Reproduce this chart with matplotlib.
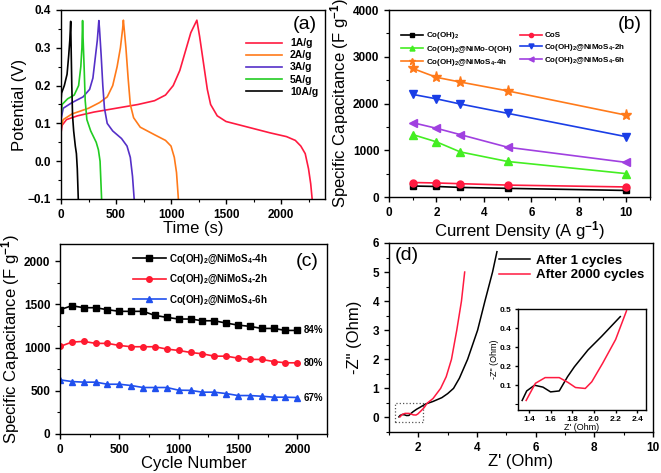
import matplotlib
matplotlib.use('Agg')
import matplotlib.pyplot as plt
from matplotlib.ticker import AutoMinorLocator
from matplotlib.patches import Rectangle
import numpy as np

plt.rcParams['font.family'] = ['Liberation Sans', 'DejaVu Sans']
plt.rcParams['mathtext.fontset'] = 'custom'
plt.rcParams['mathtext.rm'] = 'Liberation Sans:bold'
plt.rcParams['mathtext.it'] = 'Liberation Sans:bold'
plt.rcParams['mathtext.bf'] = 'Liberation Sans:bold'

# ---- (a) GCD curves ----
gcd_labels = ['1A/g', '2A/g', '3A/g', '5A/g', '10A/g']
gcd_colors = ['#ff1a40', '#ff7a1a', '#5530c8', '#22cc22', '#000000']
t_1 = [0, 10, 50, 150, 300, 500, 700, 850, 950, 1020, 1080, 1130, 1180, 1235,
       1260, 1300, 1330, 1360, 1420, 1500, 1700, 1900, 2050, 2130, 2180, 2220, 2250, 2270, 2283]
v_1 = [0.075, 0.095, 0.11, 0.12, 0.13, 0.14, 0.15, 0.16, 0.175, 0.2, 0.24, 0.29, 0.34, 0.373,
       0.33, 0.25, 0.19, 0.15, 0.12, 0.105, 0.09, 0.075, 0.065, 0.055, 0.04, 0.02, -0.02, -0.06, -0.1]
t_2 = [0, 20, 100, 250, 350, 420, 470, 510, 540, 560, 567,
       590, 610, 630, 660, 720, 850, 950, 1000, 1030, 1050, 1067]
v_2 = [0.09, 0.11, 0.125, 0.14, 0.155, 0.17, 0.2, 0.25, 0.3, 0.35, 0.373,
       0.3, 0.22, 0.15, 0.115, 0.09, 0.07, 0.055, 0.04, 0.01, -0.03, -0.1]
t_3 = [0, 20, 100, 200, 260, 290, 310, 330, 344,
       350, 365, 380, 395, 420, 470, 550, 600, 630, 650, 665]
v_3 = [0.11, 0.14, 0.155, 0.17, 0.19, 0.22, 0.27, 0.32, 0.372,
       0.35, 0.28, 0.2, 0.14, 0.1, 0.08, 0.06, 0.04, 0.01, -0.04, -0.1]
t_5 = [0, 10, 60, 120, 160, 180, 190, 196,
       200, 210, 220, 235, 270, 320, 340, 355, 362, 369]
v_5 = [0.12, 0.15, 0.165, 0.175, 0.2, 0.25, 0.3, 0.372,
       0.33, 0.25, 0.16, 0.11, 0.08, 0.05, 0.03, 0.0, -0.05, -0.1]
t_10 = [0, 5, 30, 55, 70, 80, 88, 92, 98, 105, 115, 130, 140, 148, 157]
v_10 = [0.16, 0.18, 0.2, 0.23, 0.28, 0.32, 0.37, 0.3, 0.2, 0.12, 0.08, 0.04, 0.02, -0.02, -0.1]

# ---- (b) rate capability ----
current = [1, 2, 3, 5, 10]
cap_cooh = [235, 225, 205, 185, 140]
cap_cos = [310, 300, 285, 255, 215]
cap_nimo_ooh = [1335, 1180, 965, 760, 500]
cap_2h = [2195, 2100, 1990, 1790, 1290]
cap_4h = [2750, 2560, 2460, 2270, 1750]
cap_6h = [1590, 1470, 1335, 1065, 740]

# ---- (c) cycling ----
cycles = list(range(0, 2001, 100))
cyc_4h = [1439, 1485, 1462, 1462, 1439, 1420, 1420, 1420, 1373, 1350, 1331,
          1331, 1311, 1311, 1284, 1261, 1246, 1222, 1222, 1199, 1199]
cyc_2h = [1013, 1064, 1072, 1049, 1049, 1025, 1010, 1010, 1010, 983, 967,
          944, 928, 901, 901, 878, 863, 863, 839, 824, 824]
cyc_6h = [627, 607, 600, 600, 576, 576, 561, 538, 538, 538, 507,
          505, 484, 484, 468, 445, 445, 437, 426, 426, 422]
retention = ['84%', '80%', '67%']

# ---- (d) Nyquist ----
zre_1 = [1.338, 1.38, 1.452, 1.53, 1.60, 1.68, 1.757, 1.82, 1.945, 2.07, 2.243,
         2.5, 2.8, 3.0, 3.2, 3.4, 3.68, 4.02, 4.27, 4.53, 4.68]
zim_1 = [0.02, 0.07, 0.10, 0.09, 0.065, 0.07, 0.145, 0.197, 0.285, 0.356, 0.46,
         0.55, 0.68, 0.82, 1.0, 1.35, 2.0, 3.0, 4.0, 5.0, 5.7]
zre_2k = [1.375, 1.46, 1.55, 1.68, 1.76, 1.83, 1.92, 1.98, 2.08, 2.2, 2.30,
          2.5, 2.76, 2.95, 3.13, 3.31, 3.47, 3.58]
zim_2k = [0.02, 0.11, 0.14, 0.14, 0.115, 0.088, 0.083, 0.118, 0.215, 0.34, 0.49,
          0.65, 1.0, 1.4, 2.0, 3.0, 4.0, 5.0]
n_inset = 11  # points shown in the zoomed inset

fig = plt.figure(figsize=(6.61, 4.73), dpi=100)
axa = fig.add_axes([0.0923, 0.5793, 0.3994, 0.3996])
axb = fig.add_axes([0.5885, 0.5835, 0.3949, 0.3953])
axc = fig.add_axes([0.0908, 0.0825, 0.4039, 0.4017])
axd = fig.add_axes([0.5885, 0.0867, 0.3994, 0.3996])
axi = fig.add_axes([0.7837, 0.1332, 0.1936, 0.2135])


def style(ax, size=8.5):
    ax.tick_params(which='both', direction='out', top=False, right=False)
    ax.tick_params(which='major', length=3.5, width=1, labelsize=size)
    ax.tick_params(which='minor', length=2, width=0.8)
    ax.xaxis.set_minor_locator(AutoMinorLocator(2))
    ax.yaxis.set_minor_locator(AutoMinorLocator(2))
    for lab in ax.get_xticklabels() + ax.get_yticklabels():
        lab.set_fontweight('bold')
    for s in ax.spines.values():
        s.set_linewidth(1.0)


# (a)
for t, v, c, l in zip([t_1, t_2, t_3, t_5, t_10], [v_1, v_2, v_3, v_5, v_10],
                      gcd_colors, gcd_labels):
    axa.plot(t, v, color=c, lw=1.2, label=l)
axa.set_xlim(0, 2400)
axa.set_ylim(-0.1, 0.4)
axa.set_xticks([0, 500, 1000, 1500, 2000])
axa.set_yticks([-0.1, 0.0, 0.1, 0.2, 0.3, 0.4])
style(axa)
axa.set_xlabel('Time (s)', fontsize=12, labelpad=0)
axa.set_ylabel('Potential (V)', fontsize=12, labelpad=1)
axa.legend(loc='upper right', bbox_to_anchor=(1.01, 0.9), frameon=False,
           prop={'weight': 'bold', 'size': 7.5}, handlelength=3.4,
           labelspacing=0.2, handletextpad=0.8)
axa.text(0.97, 0.97, '(a)', transform=axa.transAxes, ha='right', va='top', fontsize=14)

# (b)
hb = {}
hb['a'], = axb.plot(current, cap_cooh, '-s', color='#000000', ms=5, lw=1.2, label='Co(OH)$_2$')
hb['b'], = axb.plot(current, cap_cos, '-o', color='#ff1a40', ms=5, lw=1.2, label='CoS')
hb['c'], = axb.plot(current, cap_nimo_ooh, '-^', color='#44ee22', ms=6, lw=1.2,
                    label='Co(OH)$_2$@NiMo-O(OH)')
hb['d'], = axb.plot(current, cap_2h, '-v', color='#1a3ee6', ms=6, lw=1.2,
                    label='Co(OH)$_2$@NiMoS$_4$-2h')
hb['e'], = axb.plot(current, cap_4h, '-*', color='#ff7a1a', ms=8, lw=1.2,
                    label='Co(OH)$_2$@NiMoS$_4$-4h')
hb['f'], = axb.plot(current, cap_6h, '-<', color='#a040e0', ms=6, lw=1.2,
                    label='Co(OH)$_2$@NiMoS$_4$-6h')
axb.set_xlim(0, 11)
axb.set_ylim(0, 4000)
axb.set_xticks([0, 2, 4, 6, 8, 10])
axb.set_yticks([0, 1000, 2000, 3000, 4000])
style(axb)
axb.set_xlabel('Current Density (A g$^{-1}$)', fontsize=12, labelpad=0)
axb.set_ylabel('Specific Capacitance (F g$^{-1}$)', fontsize=12, labelpad=1)
handles = [hb['a'], hb['c'], hb['e'], hb['b'], hb['d'], hb['f']]
axb.legend(handles=handles, labels=[h.get_label() for h in handles], ncol=2,
           loc='upper left', bbox_to_anchor=(0.02, 0.93), frameon=False,
           prop={'weight': 'bold', 'size': 5.8}, handlelength=2.7, markerscale=0.6,
           labelspacing=0.3, columnspacing=1.0, handletextpad=0.3)
axb.text(0.97, 0.97, '(b)', transform=axb.transAxes, ha='right', va='top', fontsize=14)

# (c)
axc.plot(cycles, cyc_4h, '-s', color='#000000', ms=4, lw=1.2,
         label='Co(OH)$_2$@NiMoS$_4$-4h')
axc.plot(cycles, cyc_2h, '-o', color='#ff1a30', ms=4, lw=1.2,
         label='Co(OH)$_2$@NiMoS$_4$-2h')
axc.plot(cycles, cyc_6h, '-^', color='#2050ee', ms=4.5, lw=1.2,
         label='Co(OH)$_2$@NiMoS$_4$-6h')
for y, s in zip([cyc_4h[-1], cyc_2h[-1], cyc_6h[-1]], retention):
    axc.text(2055, y, s, fontsize=7, fontweight='bold', va='center')
axc.set_xlim(0, 2250)
axc.set_ylim(0, 2200)
axc.set_xticks([0, 500, 1000, 1500, 2000])
axc.set_yticks([0, 500, 1000, 1500, 2000])
style(axc)
axc.set_xlabel('Cycle Number', fontsize=12, labelpad=0)
axc.set_ylabel('Specific Capacitance (F g$^{-1}$)', fontsize=12, labelpad=1)
axc.legend(loc='upper left', bbox_to_anchor=(0.24, 1.0), frameon=False,
           prop={'weight': 'bold', 'size': 7}, handlelength=3.4,
           labelspacing=0.75, handletextpad=0.3)
axc.text(0.97, 0.95, '(c)', transform=axc.transAxes, ha='right', va='top', fontsize=14)

# (d)
axd.plot(zre_1, zim_1, color='#000000', lw=1.1, label='After 1 cycles')
axd.plot(zre_2k, zim_2k, color='#ff1a40', lw=1.1, label='After 2000 cycles')
axd.add_patch(Rectangle((1.22, -0.17), 0.94, 0.67, fill=False, ls=':',
                        lw=0.9, ec='#555555'))
axd.set_xlim(1, 10)
axd.set_ylim(-0.5, 6)
axd.set_xticks([2, 4, 6, 8, 10])
axd.set_yticks([0, 1, 2, 3, 4, 5, 6])
style(axd)
axd.set_xlabel("Z' (Ohm)", fontsize=12, labelpad=0)
axd.set_ylabel('-Z" (Ohm)', fontsize=12, labelpad=8)
axd.legend(loc='upper right', bbox_to_anchor=(1.01, 1.0), frameon=False,
           prop={'weight': 'bold', 'size': 9.5}, handlelength=2.4,
           labelspacing=0.15, handletextpad=0.4)
axd.text(0.02, 0.98, '(d)', transform=axd.transAxes, ha='left', va='top', fontsize=14)

axi.plot(zre_1[:n_inset], zim_1[:n_inset], color='#000000', lw=1.1)
axi.plot(zre_2k[:n_inset], zim_2k[:n_inset], color='#ff1a40', lw=1.1)
axi.set_xlim(1.3, 2.48)
axi.set_ylim(-0.03, 0.5)
axi.set_xticks([1.4, 1.6, 1.8, 2.0, 2.2, 2.4])
axi.set_yticks([0.1, 0.2, 0.3, 0.4, 0.5])
style(axi, size=6)
axi.xaxis.set_minor_locator(AutoMinorLocator(1))
axi.yaxis.set_minor_locator(AutoMinorLocator(1))
axi.tick_params(which='major', length=2.5, pad=2)
axi.set_xlabel("Z' (Ohm)", fontsize=6.5, labelpad=0)
axi.set_ylabel('-Z" (Ohm)', fontsize=6.5, labelpad=1)

fig.savefig('out.png', dpi=100)
